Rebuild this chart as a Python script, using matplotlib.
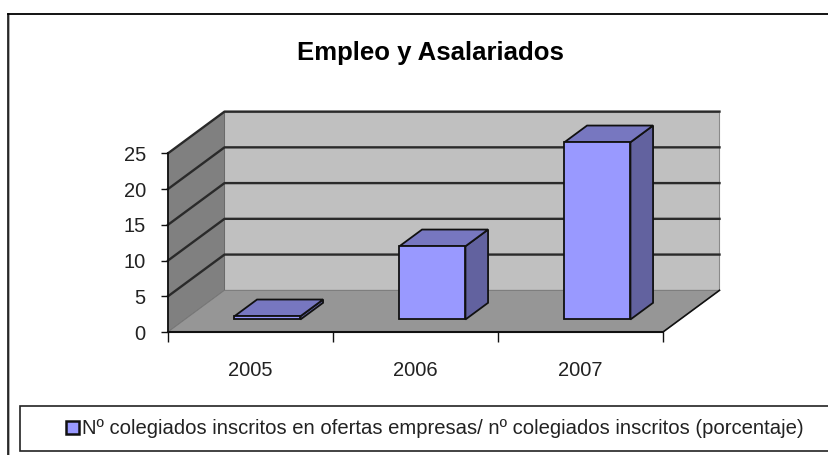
"""Excel-style 3D column chart drawn with polygons on a regular axes."""

import matplotlib

matplotlib.use("Agg")
import matplotlib.pyplot as plt
from matplotlib.lines import Line2D
from matplotlib.patches import Patch, Polygon, Rectangle

TITLE = "Empleo y Asalariados"
YEARS = ["2005", "2006", "2007"]
VALUES = [0.46, 10.25, 24.8]
Y_TICKS = [0, 5, 10, 15, 20, 25]
LEGEND = "Nº colegiados inscritos en ofertas empresas/ nº colegiados inscritos (porcentaje)"

W, H = 829, 455
# oblique offset of the full chart depth, in data units
DX = 56.5 / 165
DY = 41.7 / 7.15
BAR_W = 0.4
EDGE = "#111111"

plt.rcParams["font.family"] = ["Liberation Sans", "DejaVu Sans"]


def oblique(x, y, d):
    return (x + d * DX, y + d * DY)


def face(ax, pts, color, lw=1.3, ec=EDGE, z=2):
    ax.add_patch(Polygon(pts, closed=True, fc=color, ec=ec, lw=lw, clip_on=False, zorder=z, joinstyle="miter"))


def fx(x):
    return x / W


def fy(y):
    return 1 - y / H


def main():
    fig = plt.figure(figsize=(W / 100, H / 100), dpi=100)
    ax = fig.add_axes([fx(168), fy(332), 495 / W, (332 - 153.3) / H])
    ax.set_xlim(0, len(YEARS))
    ax.set_ylim(0, Y_TICKS[-1])
    ax.patch.set_visible(False)
    for s in ax.spines.values():
        s.set_visible(False)

    n = len(YEARS)
    top = Y_TICKS[-1]
    # back wall, side wall, floor
    face(ax, [oblique(0, 0, 1), oblique(n, 0, 1), oblique(n, top, 1), oblique(0, top, 1)], "#c0c0c0", lw=0.8, ec="#8a8a8a", z=1)
    face(ax, [oblique(0, 0, 0), oblique(0, 0, 1), oblique(0, top, 1), oblique(0, top, 0)], "#808080", lw=0.6, ec="#666666", z=1)
    face(ax, [oblique(0, 0, 0), oblique(n, 0, 0), oblique(n, 0, 1), oblique(0, 0, 1)], "#969696", lw=0.6, ec="#777777", z=1)

    # gridlines wrap from the side wall onto the back wall
    for v in Y_TICKS[1:]:
        xs, ys = zip(oblique(0, v, 0), oblique(0, v, 1), oblique(n, v, 1))
        ax.plot(xs, ys, color="#2a2a2a", lw=1.7, clip_on=False, zorder=1.5)

    # floor edges
    ax.plot([0, n], [0, 0], color="#111111", lw=1.5, clip_on=False, zorder=1.6)
    xs, ys = zip(oblique(n, 0, 0), oblique(n, 0, 1))
    ax.plot(xs, ys, color="#111111", lw=1.2, clip_on=False, zorder=1.6)
    ax.plot([0, 0], [0, top], color="#111111", lw=1.3, clip_on=False, zorder=1.6)

    # columns
    for i, v in enumerate(VALUES):
        x0 = i + 0.5 - BAR_W / 2
        x1 = x0 + BAR_W
        d0, d1 = 0.3, 0.7
        face(ax, [oblique(x1, 0, d0), oblique(x1, 0, d1), oblique(x1, v, d1), oblique(x1, v, d0)], "#62629f", z=3)
        face(ax, [oblique(x0, v, d0), oblique(x1, v, d0), oblique(x1, v, d1), oblique(x0, v, d1)], "#7777c0", z=3)
        face(ax, [oblique(x0, 0, d0), oblique(x1, 0, d0), oblique(x1, v, d0), oblique(x0, v, d0)], "#9999ff", z=4)

    ax.set_yticks(Y_TICKS)
    ax.tick_params(axis="y", length=5, width=1, color="#111111", labelsize=14.5, labelcolor="#222222", pad=11)
    ax.set_xticks(range(n + 1))
    ax.set_xticklabels([])
    ax.tick_params(axis="x", which="major", length=7, width=1, color="#111111")
    ax.set_xticks([i + 0.5 for i in range(n)], minor=True)
    ax.set_xticklabels(YEARS, minor=True, fontsize=14.5, color="#222222")
    ax.tick_params(axis="x", which="minor", length=0, pad=21)

    fig.text(fx(430), fy(53), TITLE, ha="center", va="center", fontsize=18.5, fontweight="bold")

    # outer chart frame (cut off at the right edge of the image)
    fig.add_artist(Line2D([fx(9.5), fx(9.5)], [0, fy(14)], color="#a0a0a0", lw=1.2))
    fig.add_artist(Line2D([fx(8.5), 1], [fy(14), fy(14)], color="black", lw=1.3))
    fig.add_artist(Line2D([fx(8.3), fx(8.3)], [0, fy(14)], color="black", lw=1.1))

    # legend box, also running past the right edge
    fig.add_artist(Rectangle((fx(20), fy(451)), 1, (451 - 406) / H, transform=fig.transFigure, fc="white", ec="#222222", lw=1.2))
    handle = Patch(fc="#9999ff", ec="#111111", lw=1.8)
    fig.legend([handle], [LEGEND], loc="center left", bbox_to_anchor=(fx(58), fy(429)), frameon=False, fontsize=14.55,
               labelcolor="#222222", handlelength=0.62, handleheight=0.62, handletextpad=0.16, borderaxespad=0)

    fig.savefig("out.png", dpi=100)


if __name__ == "__main__":
    main()
